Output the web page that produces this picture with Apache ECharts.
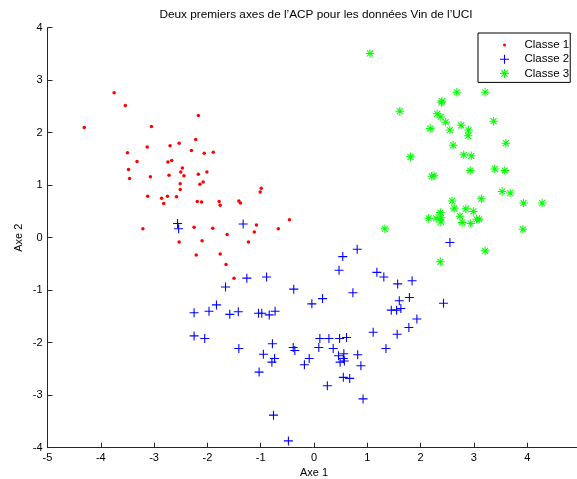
<!DOCTYPE html>
<html><head><meta charset="utf-8">
<script src="https://cdn.jsdelivr.net/npm/echarts@6/dist/echarts.min.js"></script>
<style>html,body{margin:0;padding:0;background:#fff}#c{width:577px;height:479px}</style>
</head><body><div id="c"></div>
<script>
// Classe 1 (points rouges) [Axe 1, Axe 2]
const classe1 = [
[-3.75,2.76],[-3.54,2.52],[-2.17,2.33],[-4.31,2.10],[-3.05,2.12],[-2.22,1.87],[-2.53,1.80],[-3.13,1.73],
[-2.70,1.75],[-2.30,1.66],[-2.06,1.61],[-1.89,1.63],[-3.50,1.62],[-3.32,1.45],[-2.67,1.47],[-2.74,1.44],
[-2.47,1.33],[-3.48,1.30],[-2.50,1.25],[-2.17,1.21],[-2.01,1.25],[-3.46,1.13],[-3.07,1.16],[-2.72,1.19],
[-2.44,1.18],[-2.08,1.06],[-2.14,1.02],[-2.51,1.03],[-2.51,0.92],[-3.12,0.79],[-2.86,0.75],[-2.75,0.79],
[-2.58,0.78],[-0.99,0.94],[-1.01,0.87],[-2.82,0.65],[-2.19,0.69],[-2.11,0.68],[-1.78,0.69],[-1.76,0.62],
[-1.41,0.70],[-1.38,0.66],[-0.46,0.34],[-1.08,0.24],[-1.12,0.11],[-0.67,0.17],[-3.21,0.17],[-2.25,0.20],
[-1.90,0.18],[-1.63,0.06],[-2.53,-0.08],[-2.10,-0.06],[-1.23,-0.08],[-2.21,-0.33],[-1.76,-0.31],[-1.65,-0.51],
[-1.50,-0.77]
];
// Classe 2 (croix bleues)
const classe2 = [
[-2.56,0.27],[-2.54,0.17],[-1.33,0.26],[-1.26,-0.77],[-0.89,-0.75],[-1.66,-0.94],[-0.38,-0.98],[0.54,-0.36],
[0.47,-0.62],[-0.04,-1.26],[0.16,-1.16],[-2.25,-1.43],[-1.97,-1.40],[-1.83,-1.28],[-1.58,-1.46],[-1.42,-1.41],
[-1.04,-1.44],[-0.98,-1.44],[-0.84,-1.47],[-0.73,-1.40],[-2.25,-1.87],[-2.05,-1.92],[-0.78,-2.02],[-0.39,-2.09],
[0.11,-1.92],[0.28,-1.92],[0.48,-1.92],[0.61,-1.90],[0.09,-2.09],[-1.41,-2.11],[0.36,-2.11],[-0.95,-2.22],
[-0.79,-2.37],[-0.74,-2.30],[-1.03,-2.56],[-0.76,-3.38],[-0.48,-3.87],[-0.36,-2.15],[-0.09,-2.30],[-0.18,-2.42],
[0.46,-2.25],[0.56,-2.21],[0.49,-2.37],[0.57,-2.35],[0.55,-2.30],[0.55,-2.66],[0.67,-2.68],[0.25,-2.82],
[0.82,-2.23],[0.88,-2.44],[0.92,-3.07],[1.11,-1.80],[0.81,-0.22],[2.55,-0.09],[1.18,-0.66],[1.31,-0.75],
[1.57,-0.88],[1.84,-0.82],[0.73,-1.05],[1.60,-1.20],[1.79,-1.14],[1.45,-1.38],[1.55,-1.38],[1.63,-1.35],
[2.43,-1.25],[1.93,-1.55],[1.78,-1.71],[1.56,-1.84],[1.35,-2.11]
];
// Classe 3 (étoiles vertes)
const classe3 = [
[1.05,3.51],[2.68,2.77],[3.21,2.77],[2.40,2.60],[2.39,2.57],[1.61,2.41],[2.31,2.36],[2.38,2.30],
[2.47,2.20],[2.18,2.08],[2.55,2.05],[2.76,2.14],[2.90,2.05],[2.89,1.94],[3.37,2.22],[3.60,1.80],
[2.61,1.76],[2.81,1.58],[2.95,1.56],[1.81,1.54],[2.93,1.28],[3.39,1.31],[3.58,1.28],[2.21,1.17],
[2.25,1.18],[3.53,0.88],[3.68,0.85],[3.93,0.66],[4.28,0.66],[2.59,0.70],[3.14,0.74],[2.63,0.56],
[2.85,0.55],[2.99,0.50],[2.37,0.48],[2.74,0.41],[2.15,0.37],[2.29,0.37],[2.38,0.38],[2.38,0.30],
[2.78,0.29],[2.94,0.27],[3.05,0.35],[3.10,0.35],[1.33,0.17],[3.92,0.16],[3.21,-0.25],[2.37,-0.46]
];
const seriesNames = ['Classe 1','Classe 2','Classe 3'];
const xTicks = [-5,-4,-3,-2,-1,0,1,2,3,4,5];
const yTicks = [-4,-3,-2,-1,0,1,2,3,4];
const titleText = "Deux premiers axes de l’ACP pour les données Vin de l’UCI";
const xName = 'Axe 1', yName = 'Axe 2';

const FONT = '"Liberation Sans", Arial, Helvetica, sans-serif';
const plusPath = 'path://M0,4.4H10V5.6H0Z M4.4,0H5.6V10H4.4Z';
const starPath = 'path://M0,4.4H10V5.6H0Z M4.4,0H5.6V10H4.4Z M1.92,1.08L8.92,8.08L8.08,8.92L1.08,1.92Z M8.08,1.08L8.92,1.92L1.92,8.92L1.08,8.08Z';
const dotLegend = 'path://M0,0M9,9M3,4.5A1.5,1.5 0 1 0 6,4.5A1.5,1.5 0 1 0 3,4.5Z';

const chart = echarts.init(document.getElementById('c'), null, {renderer:'canvas'});
const axisCommon = {
  type:'value', interval:1,
  axisLine:{show:true, onZero:false, lineStyle:{color:'#262626', width:1}},
  axisTick:{show:true, inside:true, length:5, lineStyle:{color:'#262626'}},
  splitLine:{show:false},
  axisLabel:{color:'#000', fontSize:11, fontFamily:FONT, showMinLabel:true, showMaxLabel:true, hideOverlap:false},
  nameTextStyle:{color:'#000', fontSize:11, fontFamily:FONT},
  nameLocation:'middle', nameMoveOverlap:false
};
const common = {type:'scatter', silent:true, emphasis:{disabled:true}};
chart.setOption({
  animation:false,
  backgroundColor:'#fff',
  grid:{left:47.5, top:27.7, width:533, height:420, containLabel:false, outerBoundsMode:'none'},
  xAxis:Object.assign({}, axisCommon, {min:xTicks[0], max:xTicks[xTicks.length-1], name:xName, nameGap:20,
    axisLabel:Object.assign({}, axisCommon.axisLabel, {margin:5})}),
  yAxis:Object.assign({}, axisCommon, {min:yTicks[0], max:yTicks[yTicks.length-1], name:yName, nameGap:23,
    axisLabel:Object.assign({}, axisCommon.axisLabel, {margin:5})}),
  legend:{
    orient:'vertical', left:478, top:33, selectedMode:false,
    padding:[6,1,3,22], itemGap:2.2, itemWidth:30, itemHeight:9,
    borderColor:'#000', borderWidth:1, backgroundColor:'#fff',
    textStyle:{color:'#000', fontSize:11.5, fontFamily:FONT},
    data:[{name:seriesNames[0], icon:dotLegend},{name:seriesNames[1], icon:plusPath},{name:seriesNames[2], icon:starPath}]
  },
  graphic:[{type:'text', x:316, y:14.5, silent:true, style:{text:titleText, font:'11.8px ' + FONT, fill:'#000', textAlign:'center', textVerticalAlign:'middle'}}],
  series:[
    Object.assign({name:seriesNames[0], data:classe1, symbol:'circle', symbolSize:3.5, itemStyle:{color:'#ff0000', opacity:1}}, common),
    Object.assign({name:seriesNames[1], data:classe2, symbol:plusPath, symbolSize:9, itemStyle:{color:'#0000ff', opacity:1}}, common),
    Object.assign({name:seriesNames[2], data:classe3, symbol:starPath, symbolSize:8.5, itemStyle:{color:'#00ff00', opacity:1}}, common)
  ]
});
</script></body></html>
